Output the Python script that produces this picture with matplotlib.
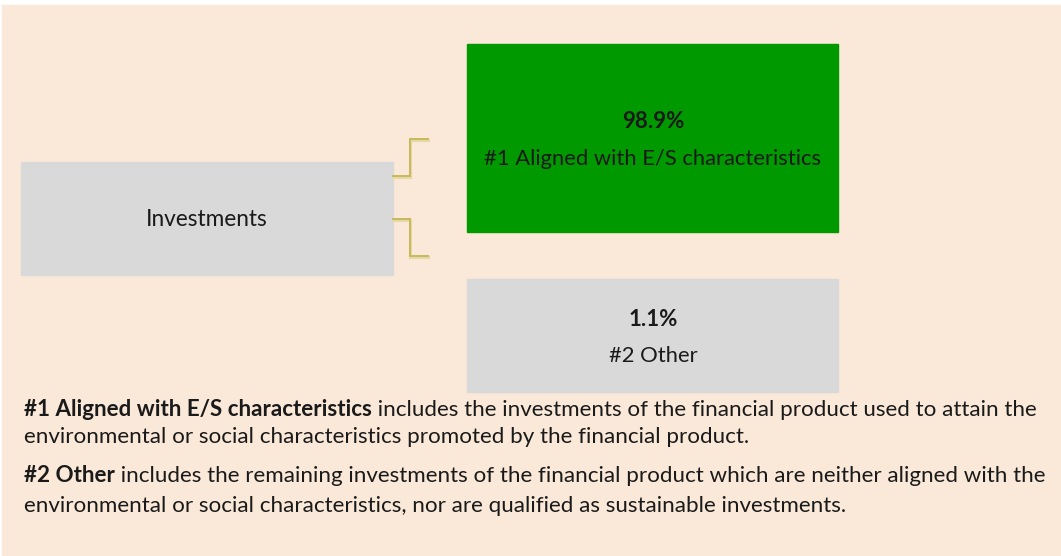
import matplotlib.pyplot as plt
from matplotlib.patches import Rectangle

# data
shares = [98.9, 1.1]
categories = ["#1 Aligned with E/S characteristics", "#2 Other"]
root_label = "Investments"
box_colors = ["#009900", "#d9d9d9"]
notes_bold = ["#1 Aligned with E/S characteristics", "#2 Other"]
notes_text = [
    [" includes the investments of the financial product used to attain the",
     "environmental or social characteristics promoted by the financial product."],
    [" includes the remaining investments of the financial product which are neither aligned with the",
     "environmental or social characteristics, nor are qualified as sustainable investments."],
]

W, H = 1061, 556
plt.rcParams["font.family"] = ["Lato", "DejaVu Sans"]
fig = plt.figure(figsize=(W / 100, H / 100), dpi=100)
ax = fig.add_axes([0, 0, 1, 1])
ax.set_xlim(0, W)
ax.set_ylim(H, 0)
ax.axis("off")

# background panel
ax.add_patch(Rectangle((2, 5), W - 2, H - 5, color="#fae8d8", zorder=0))

# root box
ax.add_patch(Rectangle((21, 162), 372, 113, color="#d9d9d9"))
ax.text(207, 220, root_label, ha="center", va="center", fontsize=16.3, color="#1a1a1a")

# category boxes
box_tops = [44, 279]
box_heights = [188, 113]
for i in range(len(shares)):
    top, h = box_tops[i], box_heights[i]
    ax.add_patch(Rectangle((467, top), 371, h, color=box_colors[i]))
    cy = top + h / 2
    ax.text(653, cy - 16, f"{shares[i]}%", ha="center", va="center",
            fontsize=16, fontweight="bold", color="#1a1a1a")
    ax.text(653, cy + 21, categories[i], ha="center", va="center",
            fontsize=15.8, color="#1a1a1a")

# bracket connectors
lc = "#c9b95c"
for y_in, y_out in [(176, 139), (219, 256)]:
    ax.plot([393, 410, 410, 428], [y_in + 0.6, y_in + 0.6, y_out + 0.6, y_out + 0.6],
            color="#e6d9a8", lw=2.2, solid_joinstyle="miter", zorder=1)
    ax.plot([393, 410, 410, 428], [y_in, y_in, y_out, y_out],
            color=lc, lw=1.4, solid_joinstyle="miter", zorder=2)

# notes below
fs = 16.1
line_y = [[409, 437], [476, 506]]
for i in range(2):
    b = ax.text(24, line_y[i][0], notes_bold[i], ha="left", va="center",
                fontsize=fs, fontweight="bold", color="#1a1a1a")
    ax.annotate(notes_text[i][0], xy=(1, 0), xycoords=b, xytext=(0, 0),
                textcoords="offset points", ha="left", va="bottom",
                fontsize=fs, color="#1a1a1a")
    ax.text(24, line_y[i][1], notes_text[i][1], ha="left", va="center",
            fontsize=fs, color="#1a1a1a")

fig.savefig("out.png", dpi=100)
